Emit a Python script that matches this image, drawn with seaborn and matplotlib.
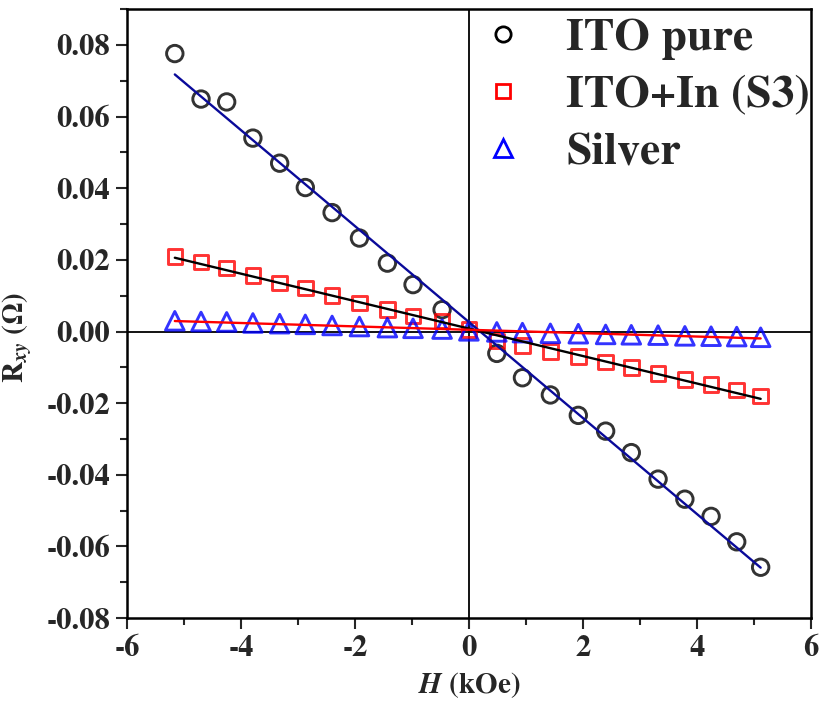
import numpy as np
import pandas as pd
import matplotlib
matplotlib.use("Agg")
import matplotlib.pyplot as plt
from matplotlib.lines import Line2D
from matplotlib.ticker import MultipleLocator
import seaborn as sns

# ---- data ----
H_ito = [-5.16, -4.70, -4.25, -3.79, -3.32, -2.87, -2.40, -1.92, -1.43, -0.98, -0.47,
         0.49, 0.94, 1.43, 1.92, 2.40, 2.85, 3.32, 3.79, 4.25, 4.70, 5.12]
R_ito = [0.0776, 0.0649, 0.0641, 0.0540, 0.0470, 0.0402, 0.0332, 0.0261, 0.0191, 0.0131, 0.0061,
         -0.0061, -0.0129, -0.0177, -0.0234, -0.0278, -0.0338, -0.0412, -0.0468, -0.0516, -0.0587, -0.0658]

H_in = [-5.16, -4.70, -4.25, -3.79, -3.32, -2.87, -2.40, -1.92, -1.43, -0.98, -0.47, 0.0,
        0.49, 0.94, 1.43, 1.92, 2.40, 2.85, 3.32, 3.79, 4.25, 4.70, 5.12]
R_in = [0.0210, 0.0194, 0.0177, 0.0156, 0.0136, 0.0122, 0.0100, 0.0080, 0.0061, 0.0043, 0.0029, 0.0005,
        -0.0027, -0.0039, -0.0055, -0.0070, -0.0085, -0.0101, -0.0117, -0.0134, -0.0148, -0.0163, -0.0180]

H_ag = [-5.16, -4.70, -4.25, -3.79, -3.32, -2.87, -2.40, -1.92, -1.43, -0.98, -0.47, 0.0,
        0.49, 0.94, 1.43, 1.92, 2.40, 2.85, 3.32, 3.79, 4.25, 4.70, 5.12]
R_ag = [0.0030, 0.0028, 0.0027, 0.0024, 0.0022, 0.0020, 0.0017, 0.0014, 0.0011, 0.0009, 0.0007, 0.0002,
        -0.0001, -0.0003, -0.0005, -0.0006, -0.0008, -0.0009, -0.0010, -0.0012, -0.0013, -0.0014, -0.0016]

labels = ["ITO pure", "ITO+In (S3)", "Silver"]
x_ticks = [-6, -4, -2, 0, 2, 4, 6]
y_ticks = [-0.08, -0.06, -0.04, -0.02, 0.00, 0.02, 0.04, 0.06, 0.08]

sns.set_theme(style="ticks")
FAM = ["TeX Gyre Termes", "Liberation Serif", "DejaVu Serif"]
plt.rcParams["font.family"] = FAM
plt.rcParams["font.weight"] = "bold"
plt.rcParams["mathtext.fontset"] = "custom"
plt.rcParams["mathtext.rm"] = "TeX Gyre Termes:bold"
plt.rcParams["mathtext.bf"] = "TeX Gyre Termes:bold"
plt.rcParams["mathtext.it"] = "TeX Gyre Termes:italic:bold"

fig = plt.figure(figsize=(8.19, 7.04), dpi=100)
ax = fig.add_axes([0.155, 0.122, 0.835, 0.865])

ax.axhline(0, color="black", lw=1.3, zorder=1)
ax.axvline(0, color="black", lw=1.3, zorder=1)

df_ito = pd.DataFrame({"H": H_ito, "R": R_ito})
df_in = pd.DataFrame({"H": H_in, "R": R_in})
df_ag = pd.DataFrame({"H": H_ag, "R": R_ag})

specs = [
    (df_ito, "o", "black", "#0a0a9a", 140),
    (df_in, "s", "red", "black", 110),
    (df_ag, "^", "blue", "red", 180),
]
for d, mk, c, lc, s in specs:
    sns.regplot(data=d, x="H", y="R", ax=ax, ci=None, truncate=True, marker=mk,
                scatter_kws=dict(s=s, facecolors="none", edgecolors=c, linewidths=2.1, color=c, zorder=3),
                line_kws=dict(color=lc, lw=1.7, zorder=4))

ax.set_xlim(-6, 6)
ax.set_ylim(-0.08, 0.09)
ax.set_xticks(x_ticks)
ax.set_yticks(y_ticks)
ax.set_xticklabels([str(t) for t in x_ticks])
ax.set_yticklabels([f"{t:.2f}" for t in y_ticks])
ax.xaxis.set_minor_locator(MultipleLocator(1))
ax.yaxis.set_minor_locator(MultipleLocator(0.01))
ax.tick_params(which="major", direction="out", length=8, width=1.5, labelsize=22,
               top=False, right=False, pad=4)
ax.tick_params(which="minor", direction="out", length=5, width=1.5, top=False, right=False)
for lab in ax.get_xticklabels() + ax.get_yticklabels():
    lab.set_fontweight("bold")
for sp in ax.spines.values():
    sp.set_linewidth(1.8)
    sp.set_color("black")

ax.set_xlabel(r"$\mathit{H}$ (kOe)", fontsize=21, fontweight="bold", labelpad=6)
ax.set_ylabel(r"$\mathbf{R}_{\mathit{xy}}$ (Ω)", fontsize=21, fontweight="bold")
ax.yaxis.set_label_coords(-0.137, 0.461)

handles = [
    Line2D([], [], ls="none", marker="o", ms=11, mfc="none", mec="black", mew=2),
    Line2D([], [], ls="none", marker="s", ms=10, mfc="none", mec="red", mew=2),
    Line2D([], [], ls="none", marker="^", ms=13, mfc="none", mec="blue", mew=2),
]
leg = ax.legend(handles, labels, loc="upper left", bbox_to_anchor=(0.49, 1.015),
                frameon=False, prop=dict(family=FAM, weight="bold", size=33),
                handlelength=1.0, handletextpad=0.87, labelspacing=0.32, borderaxespad=0)

fig.savefig("out.png", dpi=100)
